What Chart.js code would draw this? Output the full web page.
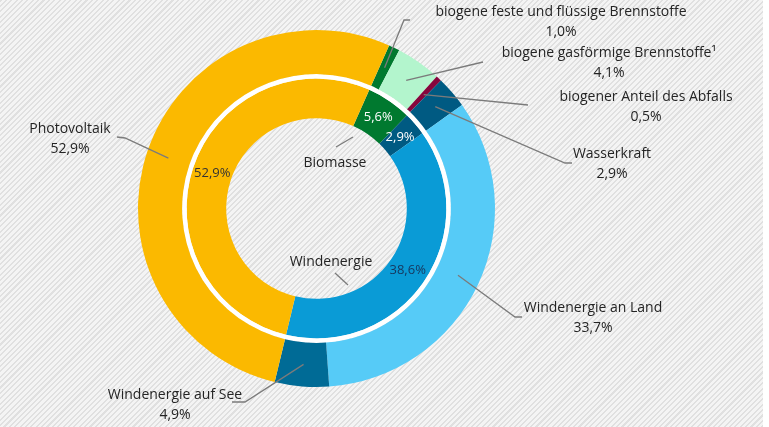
<!DOCTYPE html>
<html lang="de">
<head>
<meta charset="utf-8">
<title>Erneuerbare Energien – Anteile</title>
<script src="https://cdn.jsdelivr.net/npm/chart.js@4.4.0/dist/chart.umd.min.js"></script>
<style>
  html, body { margin: 0; padding: 0; }
  body { width: 769px; height: 427px; overflow: hidden; background: #fff; position: relative; }
  #bg {
    position: absolute; left: 0; top: 0; width: 763px; height: 427px;
    background: repeating-linear-gradient(135deg, #e0e0e0 0 1.5px, #f4f4f4 1.5px 3.8px);
  }
  canvas { position: absolute; left: 0; top: 0; }
</style>
</head>
<body>
<div id="bg"></div>
<canvas id="chart" width="769" height="427"></canvas>
<script>
"use strict";

// ── Data ──────────────────────────────────────────────────────────────────────
const outerLabels = [
  "biogene feste und flüssige Brennstoffe",
  "biogene gasförmige Brennstoffe¹",
  "biogener Anteil des Abfalls",
  "Wasserkraft",
  "Windenergie an Land",
  "Windenergie auf See",
  "Photovoltaik",
];
const outerValues = [1.0, 4.1, 0.5, 2.9, 33.7, 4.9, 52.9];

const innerLabels = ["Biomasse", "Wasserkraft", "Windenergie", "Photovoltaik"];
const innerValues = [5.6, 2.9, 38.6, 52.9];

// ── Colours ───────────────────────────────────────────────────────────────────
const outerColors = ["#00792f", "#b3f5cd", "#86063d", "#005a82", "#56cbf7", "#006b96", "#fbb900"];
const innerColors = ["#00792f", "#005a82", "#0a9bd6", "#fbb900"];
const innerText   = ["#ffffff", "#ffffff", "#17375e", "#333333"];

// ── Label layout (text anchor + leader elbow points) ──────────────────────────
const outerLayout = [
  { x: 561, y: 12,  line: [[404, 20], [410, 20]] },
  { x: 609, y: 53,  line: [[483, 62]] },
  { x: 646, y: 97,  line: [[528, 105]] },
  { x: 612, y: 154, line: [[565, 163], [572, 163]] },
  { x: 593, y: 308, line: [[515, 317], [522, 317]] },
  { x: 175, y: 395, line: [[245, 402], [232, 402]] },
  { x: 70,  y: 129, line: [[125, 138], [117, 137]] },
];
const innerNameLayout = {
  0: { x: 335, y: 163, tick: [[336, 147], [353, 137]] },
  2: { x: 331, y: 262, tick: [[335, 273], [348, 285]] },
};

const FONT = "'Open Sans', 'Noto Sans', sans-serif";
const pct = v => v.toFixed(1).replace(".", ",") + "%";

// ── Label plugin ──────────────────────────────────────────────────────────────
const ringLabels = {
  id: "ringLabels",
  afterDatasetsDraw(chart) {
    const ctx = chart.ctx;
    ctx.save();
    ctx.textAlign = "center";
    ctx.textBaseline = "middle";

    // outer ring: leader lines + external labels
    chart.getDatasetMeta(0).data.forEach((arc, i) => {
      const L = outerLayout[i];
      const p = arc.getCenterPoint();
      ctx.strokeStyle = "#7b7b7b";
      ctx.lineWidth = 1.3;
      ctx.beginPath();
      ctx.moveTo(p.x, p.y);
      L.line.forEach(([x, y]) => ctx.lineTo(x, y));
      ctx.stroke();

      ctx.fillStyle = "#242424";
      ctx.font = "14px " + FONT;
      ctx.fillText(outerLabels[i], L.x, L.y);
      ctx.fillText(pct(outerValues[i]), L.x, L.y + 20);
    });

    // inner ring: values on the arcs, names in the hole
    chart.getDatasetMeta(2).data.forEach((arc, i) => {
      const p = arc.getCenterPoint();
      ctx.fillStyle = innerText[i];
      ctx.font = "13px " + FONT;
      ctx.fillText(pct(innerValues[i]), p.x, p.y);

      const n = innerNameLayout[i];
      if (n) {
        ctx.strokeStyle = "#7b7b7b";
        ctx.lineWidth = 1.3;
        ctx.beginPath();
        ctx.moveTo(n.tick[0][0], n.tick[0][1]);
        ctx.lineTo(n.tick[1][0], n.tick[1][1]);
        ctx.stroke();
        ctx.fillStyle = "#242424";
        ctx.font = "14px " + FONT;
        ctx.fillText(innerLabels[i], n.x, n.y);
      }
    });
    ctx.restore();
  },
};

// ── Chart ─────────────────────────────────────────────────────────────────────
new Chart(document.getElementById("chart"), {
  type: "doughnut",
  data: {
    labels: outerLabels,
    datasets: [
      { data: outerValues, backgroundColor: outerColors, borderWidth: 0, weight: 44 },
      { data: [100], backgroundColor: ["#ffffff"], borderWidth: 0, weight: 4.5 },
      { data: innerValues, backgroundColor: innerColors, borderWidth: 0, weight: 39.5 },
    ],
  },
  options: {
    responsive: false,
    animation: false,
    rotation: 24,
    cutout: "50.6%",
    layout: { padding: { left: 138, right: 274, top: 30, bottom: 40 } },
    plugins: {
      legend: { display: false },
      tooltip: { enabled: false },
    },
  },
  plugins: [ringLabels],
});
</script>
</body>
</html>
